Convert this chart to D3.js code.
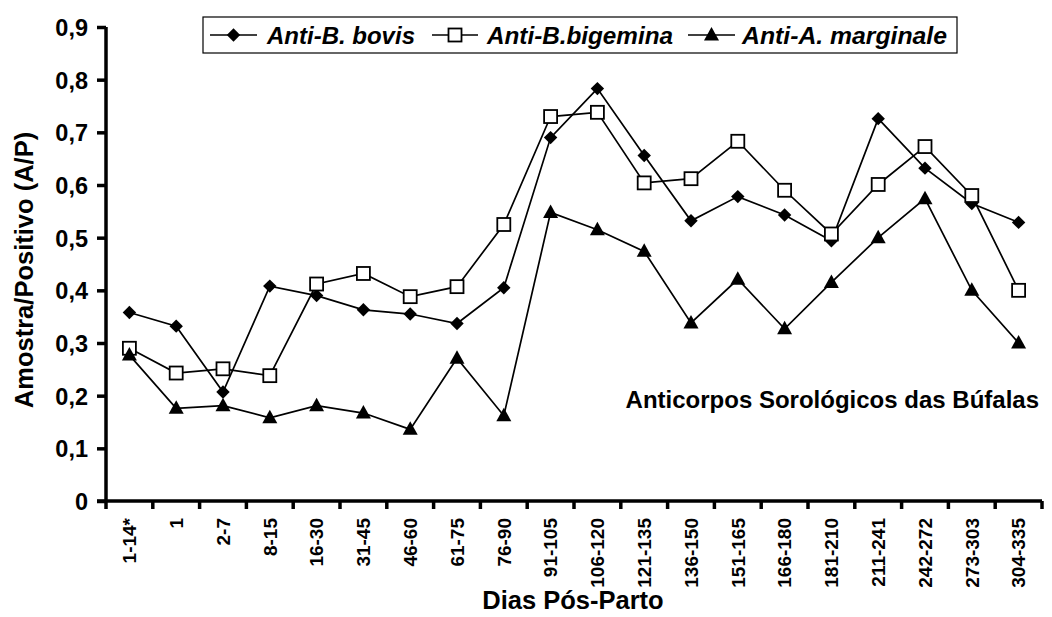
<!DOCTYPE html>
<html><head><meta charset="utf-8">
<script src="https://cdn.jsdelivr.net/npm/d3@7"></script>
<style>
body{margin:0;background:#fff;}
text{font-family:"Liberation Sans",Arial,sans-serif;font-weight:bold;fill:#000;}
</style></head>
<body><svg id="c" width="1052" height="617"></svg>
<script>
const categories = ["1-14*","1","2-7","8-15","16-30","31-45","46-60","61-75","76-90","91-105","106-120","121-135","136-150","151-165","166-180","181-210","211-241","242-272","273-303","304-335"];
const bovis = [0.358,0.332,0.207,0.408,0.390,0.363,0.355,0.337,0.405,0.690,0.783,0.656,0.532,0.578,0.543,0.494,0.726,0.632,0.565,0.529];
const bigemina = [0.290,0.243,0.251,0.238,0.412,0.432,0.388,0.407,0.525,0.730,0.738,0.604,0.612,0.683,0.590,0.507,0.601,0.673,0.580,0.400];
const marginale = [0.277,0.176,0.181,0.158,0.181,0.167,0.136,0.271,0.162,0.548,0.515,0.474,0.338,0.421,0.327,0.415,0.500,0.574,0.400,0.300];
const yTicks = [0,0.1,0.2,0.3,0.4,0.5,0.6,0.7,0.8,0.9];
const seriesNames = ["Anti-B. bovis","Anti-B.bigemina","Anti-A. marginale"];

const svg = d3.select("#c");
const L=106, R=1042, T=27, B=501;
const x = d3.scaleBand().domain(categories).range([L,R]);
const y = d3.scaleLinear().domain([0,0.9]).range([B,T]);

const fmt = d => d===0 ? "0" : d3.format(".1f")(d).replace(".",",");

// Y axis
const ya = svg.append("g").attr("transform",`translate(${L},0)`)
  .call(d3.axisLeft(y).tickValues(yTicks).tickFormat(fmt).tickSize(9).tickPadding(9));
ya.select(".domain").attr("stroke","#000").attr("stroke-width",3.5).attr("d",`M0,${T}V${B}`);
ya.selectAll(".tick line").attr("stroke","#000").attr("stroke-width",3.5);
ya.selectAll(".tick text").style("font-size","23.5px").attr("dy","0.36em");

// X axis
const xa = svg.append("g").attr("transform",`translate(0,${B})`)
  .call(d3.axisBottom(x).tickSize(0).tickPadding(0));
xa.select(".domain").attr("stroke","#000").attr("stroke-width",3.5).attr("d",`M${L-9},0H${R}`);
xa.selectAll(".tick line").remove();
xa.selectAll(".tick text").style("font-size","19px")
  .attr("transform","rotate(-90)").attr("text-anchor","end")
  .attr("x",-17).attr("y",0).attr("dy","0.36em");
// boundary ticks
const bounds = categories.map(c=>x(c)).concat([R]);
svg.append("g").selectAll("line").data(bounds).join("line")
  .attr("x1",d=>d).attr("x2",d=>d).attr("y1",B).attr("y2",B+8)
  .attr("stroke","#000").attr("stroke-width",3.5);

const cx = c => x(c)+x.bandwidth()/2;
const line = d3.line().x((d,i)=>cx(categories[i])).y(d=>y(d));

function drawMarker(g,kind,px,py){
  if(kind==="d"){
    g.append("path").attr("d",d3.symbol().type(d3.symbolSquare).size(90)()).attr("transform",`translate(${px},${py}) rotate(45)`).attr("fill","#000");
  } else if(kind==="s"){
    g.append("rect").attr("x",px-6.5).attr("y",py-6.5).attr("width",13).attr("height",13).attr("fill","#fff").attr("stroke","#000").attr("stroke-width",1.8);
  } else {
    g.append("path").attr("d",`M0,-8L7.5,5.5L-7.5,5.5Z`).attr("transform",`translate(${px},${py})`).attr("fill","#000");
  }
}
function drawSeries(vals, kind){
  svg.append("path").datum(vals).attr("d",line).attr("fill","none").attr("stroke","#000").attr("stroke-width",1.7);
  const g = svg.append("g");
  vals.forEach((v,i)=>drawMarker(g,kind,cx(categories[i]),y(v)));
}
drawSeries(bovis,"d");
drawSeries(bigemina,"s");
drawSeries(marginale,"t");

// Legend
const lg = svg.append("g");
lg.append("rect").attr("x",203).attr("y",17).attr("width",754).attr("height",36).attr("fill","#fff").attr("stroke","#000").attr("stroke-width",1.2);
const items = [{n:seriesNames[0],k:"d",x0:210,x1:257,tx:267,w:148},{n:seriesNames[1],k:"s",x0:432,x1:478,tx:487,w:186},{n:seriesNames[2],k:"t",x0:688,x1:735,tx:742,w:205}];
items.forEach(it=>{
  lg.append("line").attr("x1",it.x0).attr("x2",it.x1).attr("y1",35).attr("y2",35).attr("stroke","#000").attr("stroke-width",1.7);
  drawMarker(lg,it.k,(it.x0+it.x1)/2,35);
  lg.append("text").attr("x",it.tx).attr("y",44).style("font-size","24.5px").style("font-style","italic")
    .attr("textLength",it.w).attr("lengthAdjust","spacingAndGlyphs").text(it.n);
});

// Annotation
svg.append("text").attr("x",1039).attr("y",408).attr("text-anchor","end").style("font-size","24px").text("Anticorpos Sorológicos das Búfalas");

// Axis titles
svg.append("text").attr("transform","translate(33,270) rotate(-90)").attr("text-anchor","middle").style("font-size","25.5px").text("Amostra/Positivo (A/P)");
svg.append("text").attr("x",573).attr("y",609).attr("text-anchor","middle").style("font-size","25.5px").text("Dias Pós-Parto");
</script></body></html>
